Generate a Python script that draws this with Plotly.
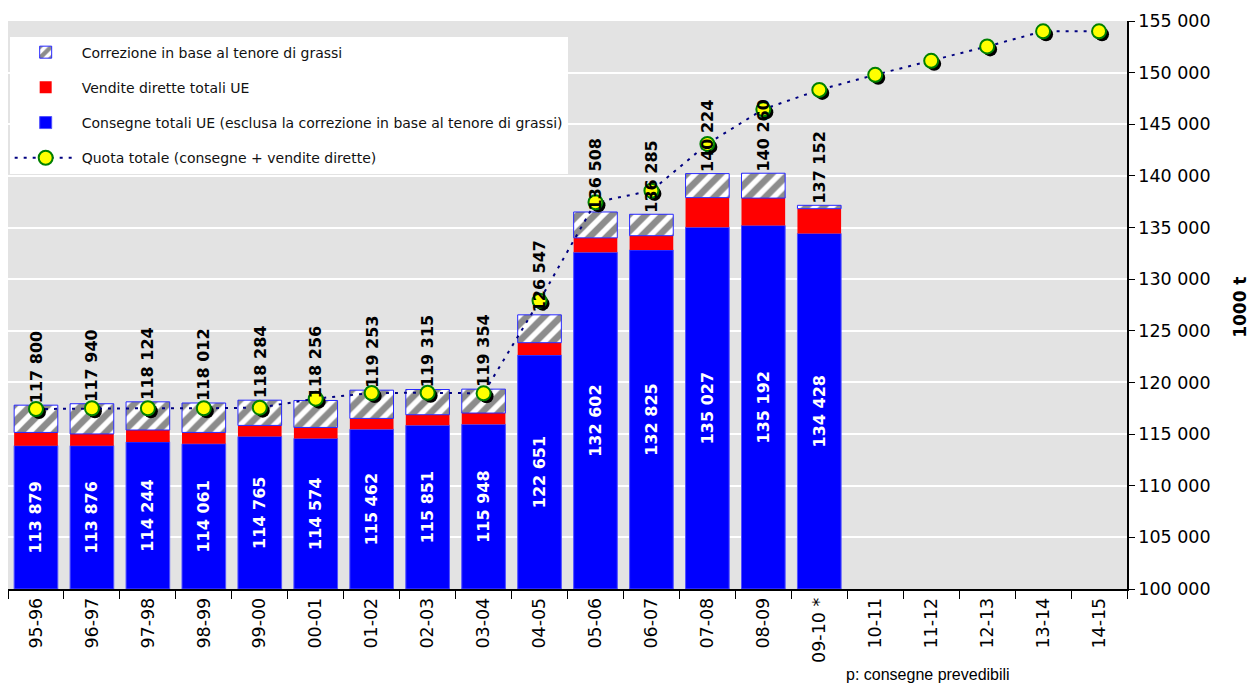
import plotly.graph_objects as go

seasons = ["95-96", "96-97", "97-98", "98-99", "99-00", "00-01", "01-02", "02-03",
           "03-04", "04-05", "05-06", "06-07", "07-08", "08-09", "09-10 *",
           "10-11", "11-12", "12-13", "13-14", "14-15"]

# Consegne totali UE (esclusa la correzione in base al tenore di grassi)
deliveries = [113879, 113876, 114244, 114061, 114765, 114574, 115462, 115851,
              115948, 122651, 132602, 132825, 135027, 135192, 134428]
# Vendite dirette totali UE (estimated)
direct_sales = [1280, 1140, 1150, 1100, 1075, 1070, 1055, 1025,
                1090, 1200, 1400, 1385, 2870, 2660, 2400]
# Correzione in base al tenore di grassi (estimated)
fat_adjustment = [2641, 2924, 2730, 2851, 2444, 2612, 2736, 2439,
                  2316, 2696, 2506, 2075, 2327, 2408, 324]
# Totals (labels above bars)
totals = [117800, 117940, 118124, 118012, 118284, 118256, 119253, 119315,
          119354, 126547, 136508, 136285, 140224, 140260, 137152]
# Quota totale (consegne + vendite dirette), estimated
quota = [117430, 117500, 117500, 117500, 117560, 118430, 118980, 119000,
         118950, 127920, 137450, 138570, 143100, 146450, 148330,
         149790, 151140, 152540, 154000, 154000]

Y0, Y1 = 100000, 155000
n = len(deliveries)
bar_x = seasons[:n]

def fmt(v):
    return f"{v:,}".replace(",", " ")

fig = go.Figure()

# Blue bars (drawn from axis minimum)
fig.add_trace(go.Bar(
    x=bar_x, y=[v - Y0 for v in deliveries], base=[Y0] * n,
    name="Consegne totali UE (esclusa la correzione in base al tenore di grassi)",
    marker=dict(color="#0000FF", line=dict(color="#5050FF", width=1)),
    text=[fmt(v) for v in deliveries], textposition="inside",
    insidetextanchor="middle", textangle=-90,
    textfont=dict(color="white", size=16, family="DejaVu Sans", weight="bold"),
    constraintext="none",
    legendrank=3, legendgroup="c", hoverinfo="skip",
))
# Red bars
fig.add_trace(go.Bar(
    x=bar_x, y=direct_sales, base=deliveries,
    name="Vendite dirette totali UE",
    marker=dict(color="#FF0000", line=dict(color="#FF0000", width=0)),
    legendrank=2, legendgroup="b", hoverinfo="skip",
))
# Hatched bars
fig.add_trace(go.Bar(
    x=bar_x, y=fat_adjustment, base=[d + s for d, s in zip(deliveries, direct_sales)],
    name="Correzione in base al tenore di grassi",
    marker=dict(color="white", line=dict(color="#2828FF", width=1),
                pattern=dict(shape="/", bgcolor="white", fgcolor="#1a1a1a",
                             size=12, solidity=0.55)),
    legendrank=1, legendgroup="a", hoverinfo="skip",
))

# Shadow of markers
fig.add_trace(go.Scatter(
    x=seasons, y=quota, mode="markers", xaxis="x2", yaxis="y2",
    marker=dict(size=14, color="black"), showlegend=False, hoverinfo="skip",
))
# Quota line
fig.add_trace(go.Scatter(
    x=seasons, y=quota, mode="lines+markers", xaxis="x3", yaxis="y3",
    name="Quota totale (consegne + vendite dirette)",
    line=dict(color="#000080", width=2, dash="3px,6px"),
    marker=dict(size=14, color="#FFFF00", line=dict(color="#008000", width=2)),
    legendrank=4, legendgroup="d", hoverinfo="skip",
))

# Labels above bars
for s, t in zip(bar_x, totals):
    fig.add_annotation(x=s, y=t, text=fmt(t), textangle=-90, showarrow=False,
                       yanchor="bottom", yshift=0,
                       font=dict(size=16, color="black", family="DejaVu Sans", weight="bold"))

# Y-axis title
fig.add_annotation(xref="paper", yref="paper", x=1.101, y=0.495, text="<b>1000 t</b>",
                   textangle=-90, showarrow=False, xanchor="center", yanchor="middle",
                   font=dict(size=17, color="black", family="DejaVu Sans"))

# Footnote
fig.add_annotation(xref="paper", yref="paper", x=0.747, y=-0.151, xanchor="left",
                   yanchor="middle", showarrow=False, text="p: consegne prevedibili",
                   font=dict(size=16, color="black", family="Liberation Sans Narrow, Liberation Sans"))

shift_x = 3 / 56.0
px_per_unit = 568.0 / (Y1 - Y0)
shift_y = 3 / px_per_unit

fig.update_layout(
    width=1250, height=676,
    margin=dict(l=0, r=131, t=13, b=95),
    paper_bgcolor="white", plot_bgcolor="#E3E3E3",
    barmode="overlay", bargap=0.22,
    separators=", ",
    font=dict(family="DejaVu Sans", color="black"),
    showlegend=True,
    legend=dict(x=0.0015, y=0.9726, xanchor="left", yanchor="top",
                bgcolor="white", borderwidth=0,
                font=dict(size=14, color="#111111", family="DejaVu Sans"),
                tracegroupgap=14, itemwidth=62),
    xaxis=dict(type="category", categoryarray=seasons, range=[-0.5, 19.5],
               tickangle=-90, tickson="boundaries", ticks="outside", ticklen=8,
               tickcolor="black", showline=True, linecolor="black", linewidth=1.5,
               showgrid=False, tickfont=dict(size=17.5, color="black"), fixedrange=True),
    yaxis=dict(range=[Y0, Y1], side="right", dtick=5000, tickformat=",d",
               ticks="outside", ticklen=6, tickcolor="black",
               showline=True, linecolor="black", linewidth=1.5,
               gridcolor="white", gridwidth=2, zeroline=False,
               tickfont=dict(size=17.5, color="black")),
    xaxis2=dict(type="category", categoryarray=seasons, overlaying="x",
                range=[-0.5 - shift_x, 19.5 - shift_x], visible=False),
    yaxis2=dict(range=[Y0 + shift_y, Y1 + shift_y], overlaying="y", visible=False),
    xaxis3=dict(type="category", categoryarray=seasons, overlaying="x",
                range=[-0.5, 19.5], visible=False),
    yaxis3=dict(range=[Y0, Y1], overlaying="y", visible=False),
)

fig.write_html("out.html")
